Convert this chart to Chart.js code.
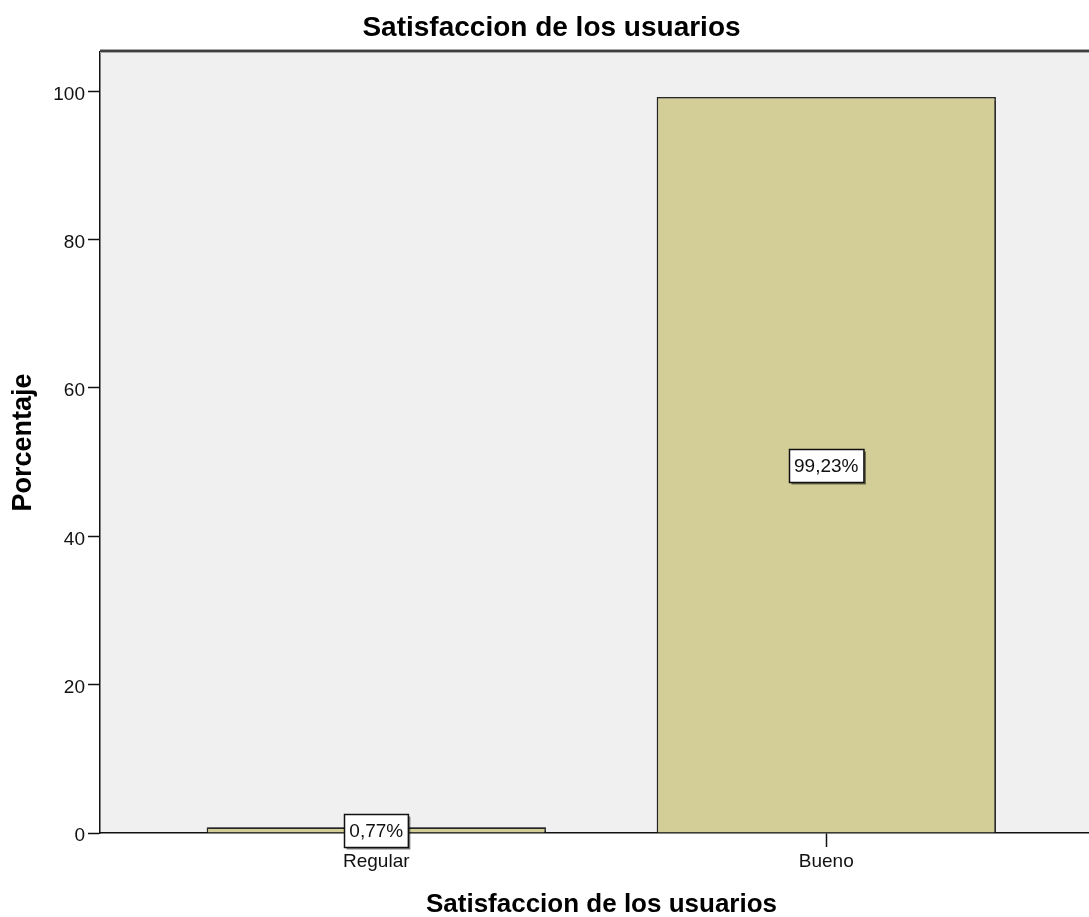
<!DOCTYPE html>
<html lang="es">
<head>
<meta charset="utf-8">
<title>Satisfaccion de los usuarios</title>
<script src="https://cdn.jsdelivr.net/npm/chart.js@4.4.1/dist/chart.umd.min.js"></script>
<style>
  html, body { margin: 0; padding: 0; background: #fff; overflow: hidden; }
  #wrap { width: 1103px; height: 917px; }
</style>
</head>
<body>
<div id="wrap"><canvas id="chart" width="1103" height="917"></canvas></div>
<script>
// Categorías y porcentajes de satisfacción
const categories = ['Regular', 'Bueno'];
const percentages = [0.77, 99.23];
const yTicks = [0, 20, 40, 60, 80, 100];

const FONT = "'Liberation Sans', Arial, Helvetica, sans-serif";
Chart.defaults.font.family = FONT;
Chart.defaults.color = '#111';

// Fondo gris del área de trazado y borde superior
const plotFrame = {
  id: 'plotFrame',
  beforeDraw(chart) {
    const { ctx, chartArea: a } = chart;
    ctx.save();
    ctx.fillStyle = '#ffffff';
    ctx.fillRect(0, 0, chart.width, chart.height);
    ctx.fillStyle = '#f0f0f0';
    ctx.fillRect(a.left, a.top, a.right - a.left, a.bottom - a.top);
    ctx.restore();
  },
  afterDraw(chart) {
    const { ctx, chartArea: a } = chart;
    ctx.save();
    ctx.fillStyle = '#a8a8a8';
    ctx.fillRect(a.left, a.top - 3, a.right - a.left, 4);
    ctx.fillStyle = '#404040';
    ctx.fillRect(a.left, a.top - 2, a.right - a.left, 2);
    ctx.restore();
  }
};

// Sombra ligera detrás de las barras
const barShadow = {
  id: 'barShadow',
  beforeDatasetsDraw(chart) {
    const ctx = chart.ctx;
    ctx.save();
    ctx.shadowColor = 'rgba(0,0,0,0.45)';
    ctx.shadowOffsetX = 2;
    ctx.shadowOffsetY = 0;
    ctx.shadowBlur = 1;
  },
  afterDatasetsDraw(chart) {
    chart.ctx.restore();
  }
};

// Etiquetas con el porcentaje en el centro de cada barra
const valueLabels = {
  id: 'valueLabels',
  afterDatasetsDraw(chart) {
    const { ctx } = chart;
    const meta = chart.getDatasetMeta(0);
    ctx.save();
    ctx.font = '19px ' + FONT;
    ctx.textAlign = 'center';
    ctx.textBaseline = 'middle';
    meta.data.forEach((bar, i) => {
      const text = percentages[i].toFixed(2).replace('.', ',') + '%';
      const w = ctx.measureText(text).width + 10;
      const h = 33;
      const cx = bar.x;
      const cy = (bar.y + bar.base) / 2 + 1;
      const x0 = Math.round(cx - w / 2) + 0.5;
      const y0 = Math.round(cy - h / 2) + 0.5;
      ctx.fillStyle = 'rgba(0,0,0,0.5)';
      ctx.fillRect(x0 + 2, y0 + 2, w, h);
      ctx.fillStyle = '#ffffff';
      ctx.fillRect(x0, y0, w, h);
      ctx.strokeStyle = '#111';
      ctx.lineWidth = 1.5;
      ctx.strokeRect(x0, y0, w, h);
      ctx.fillStyle = '#111';
      ctx.fillText(text, cx, cy + 1);
    });
    ctx.restore();
  }
};

new Chart(document.getElementById('chart'), {
  type: 'bar',
  data: {
    datasets: [{
      label: 'Porcentaje',
      data: categories.map((c, i) => ({ x: i, y: percentages[i] })),
      backgroundColor: '#d3ce97',
      borderColor: '#262626',
      borderWidth: 1.6,
      borderSkipped: 'bottom',
      barPercentage: 0.754,
      categoryPercentage: 1.0
    }]
  },
  options: {
    responsive: false,
    animation: false,
    devicePixelRatio: 1,
    layout: { padding: 0 },
    plugins: {
      legend: { display: false },
      tooltip: { enabled: false },
      title: {
        display: true,
        text: 'Satisfaccion de los usuarios',
        color: '#000',
        font: { size: 28, weight: 'bold', family: FONT, lineHeight: 1.2 },
        padding: { top: 11, bottom: 7.4 }
      }
    },
    scales: {
      x: {
        type: 'linear',
        offset: false,
        min: -0.614,
        max: 1.615,
        z: 1,
        afterBuildTicks(scale) {
          scale.ticks = categories.map((c, i) => ({ value: i }));
        },
        afterFit(scale) { scale.height = 84; },
        ticks: {
          callback: (v) => categories[v] ?? '',
          font: { size: 19, family: FONT },
          color: '#111',
          padding: 3,
          maxRotation: 0,
          autoSkip: false
        },
        grid: {
          display: true,
          drawOnChartArea: false,
          drawTicks: true,
          tickLength: 14,
          tickColor: '#111',
          tickWidth: 1.5,
          offset: false
        },
        border: { display: true, color: '#111', width: 1.5 },
        title: {
          display: true,
          text: 'Satisfaccion de los usuarios',
          color: '#000',
          font: { size: 26, weight: 'bold', family: FONT, lineHeight: 0.9 },
          padding: { top: 0, bottom: 0 }
        }
      },
      y: {
        min: 0,
        max: 105.3,
        afterBuildTicks(scale) {
          scale.ticks = yTicks.map(v => ({ value: v }));
        },
        afterFit(scale) { scale.width = 100; },
        ticks: {
          font: { size: 19, family: FONT },
          color: '#111',
          padding: 3,
          labelOffset: 3
        },
        grid: {
          display: true,
          drawOnChartArea: false,
          drawTicks: true,
          tickLength: 12,
          tickColor: '#111',
          tickWidth: 1.5
        },
        border: { display: true, color: '#111', width: 1.5 },
        title: {
          display: true,
          text: 'Porcentaje',
          color: '#000',
          font: { size: 27, weight: 'bold', family: FONT, lineHeight: 1.2 },
          padding: { top: 7, bottom: 0 }
        }
      }
    }
  },
  plugins: [plotFrame, barShadow, valueLabels]
});
</script>
</body>
</html>
